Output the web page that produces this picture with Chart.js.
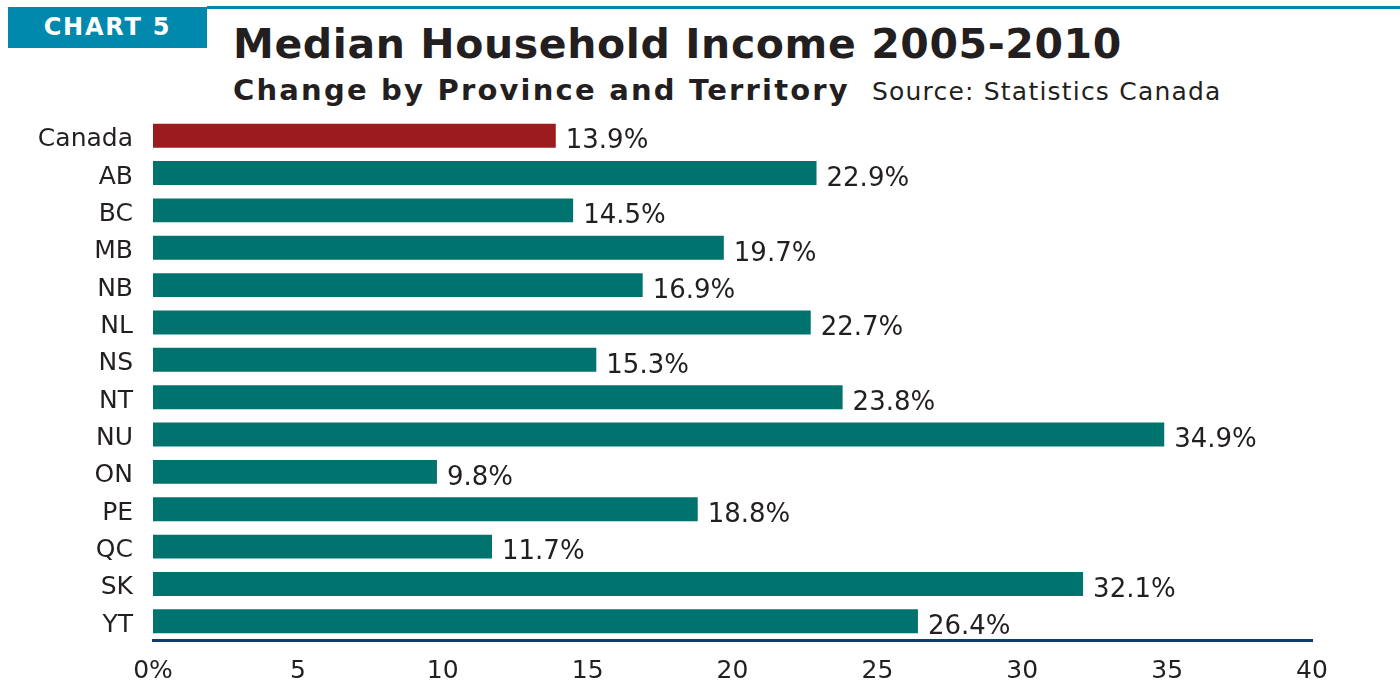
<!DOCTYPE html>
<html>
<head>
<meta charset="utf-8">
<script src="https://cdn.jsdelivr.net/npm/chart.js@4"></script>
<style>
  html, body { margin: 0; padding: 0; background: #fff; }
  body { width: 1400px; height: 684px; position: relative; overflow: hidden; font-family: "DejaVu Sans", Verdana, sans-serif; color: #231f20; }
  .rule { position: absolute; left: 207px; top: 6px; width: 1193px; height: 3px; background: #0089ad; }
  .badge { position: absolute; left: 8px; top: 7px; width: 199px; height: 41px; background: #0089ad; color: #fff;
           font-weight: bold; font-size: 24px; line-height: 41px; text-align: center; letter-spacing: 1.8px; }
  .title { position: absolute; left: 233px; top: 20px; font-weight: bold; font-size: 41px; letter-spacing: 0.6px; white-space: nowrap; }
  .subtitle { position: absolute; left: 233px; top: 73px; font-weight: bold; font-size: 29px; letter-spacing: 2.2px; white-space: nowrap; }
  .subtitle span { font-weight: normal; font-size: 25px; margin-left: 22px; letter-spacing: 1.2px; }
  #wrap { position: absolute; left: 0; top: 0; width: 1400px; height: 684px; }
</style>
</head>
<body>
<div class="rule"></div>
<div class="badge">CHART 5</div>
<div class="title">Median Household Income 2005-2010</div>
<div class="subtitle">Change by Province and Territory<span>Source: Statistics Canada</span></div>
<div id="wrap"><canvas id="chartIncome"></canvas></div>
<script>
const regiones = ['Canada', 'AB', 'BC', 'MB', 'NB', 'NL', 'NS', 'NT', 'NU', 'ON', 'PE', 'QC', 'SK', 'YT'];
const cambios = [13.9, 22.9, 14.5, 19.7, 16.9, 22.7, 15.3, 23.8, 34.9, 9.8, 18.8, 11.7, 32.1, 26.4];
const ticksX = [0, 5, 10, 15, 20, 25, 30, 35, 40];

const TEAL = '#00736f';
const ROJO = '#9b1b1f';
const TEXTO = '#231f20';

// etiquetas de valor al final de cada barra
const etiquetas = {
    id: 'etiquetas',
    afterDatasetsDraw(chart) {
        const ctx = chart.ctx;
        const meta = chart.getDatasetMeta(0);
        ctx.save();
        ctx.font = '26px "DejaVu Sans"';
        ctx.fillStyle = TEXTO;
        ctx.textAlign = 'left';
        ctx.textBaseline = 'middle';
        meta.data.forEach((bar, i) => {
            ctx.fillText(cambios[i].toFixed(1) + '%', bar.x + 10, bar.y + 6);
        });
        ctx.restore();
    }
};

new Chart(document.getElementById('chartIncome'), {
    type: 'bar',
    data: {
        labels: regiones,
        datasets: [{
            data: cambios,
            backgroundColor: regiones.map(r => r === 'Canada' ? ROJO : TEAL),
            borderWidth: 0,
            categoryPercentage: 0.8,
            barPercentage: 0.8
        }]
    },
    options: {
        indexAxis: 'y',
        responsive: true,
        maintainAspectRatio: false,
        animation: false,
        layout: { padding: { left: 0, right: 88, top: 117, bottom: 0 } },
        plugins: {
            legend: { display: false },
            tooltip: { enabled: false }
        },
        scales: {
            x: {
                min: 0,
                max: 40,
                afterFit: s => { s.height = 44; },
                afterBuildTicks: s => { s.ticks = ticksX.map(v => ({ value: v })); },
                grid: { display: false, drawTicks: false },
                border: { display: true, color: '#0f3d6e', width: 3 },
                ticks: {
                    padding: 16,
                    color: TEXTO,
                    font: { family: 'DejaVu Sans', size: 25 },
                    callback: v => v === 0 ? '0%' : String(v)
                }
            },
            y: {
                afterFit: s => { s.width = 153; },
                grid: { display: false, drawTicks: false },
                border: { display: false },
                ticks: {
                    padding: 20,
                    labelOffset: 4,
                    color: TEXTO,
                    font: { family: 'DejaVu Sans', size: 25 }
                }
            }
        }
    },
    plugins: [etiquetas]
});
</script>
</body>
</html>
